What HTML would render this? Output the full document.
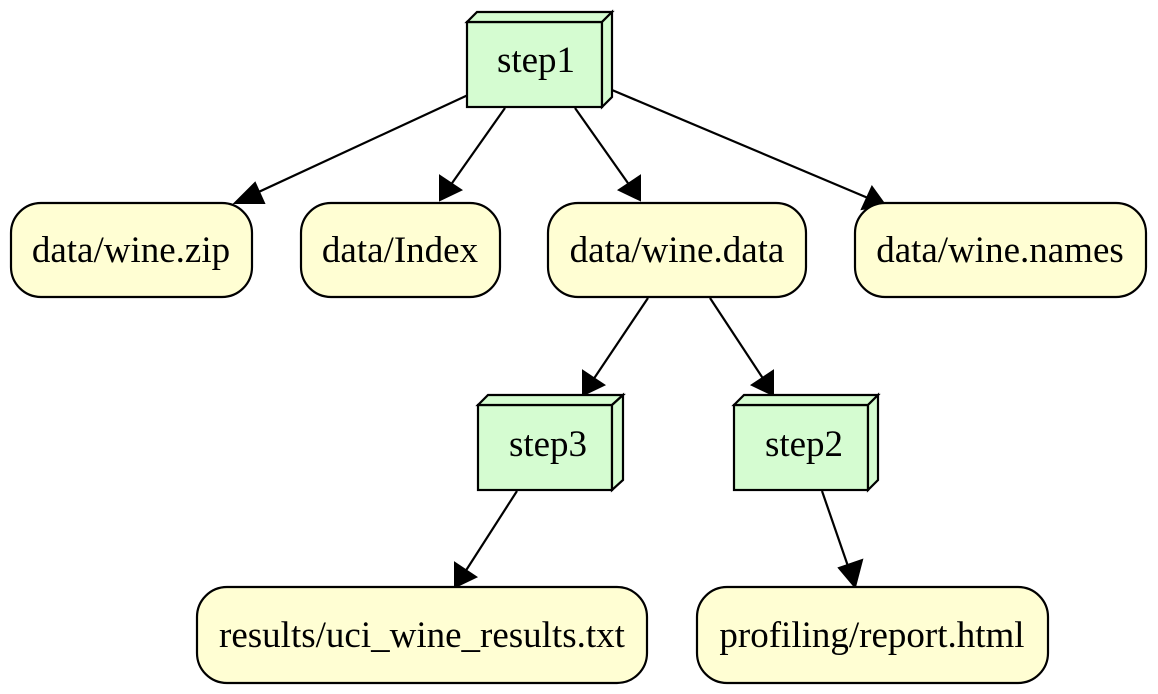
<!DOCTYPE html>
<html><head><meta charset="utf-8"><style>
html,body{margin:0;padding:0;background:#fff;}
svg{display:block;}
text{font-family:"Liberation Serif",serif;font-size:37px;fill:#000;}
</style></head><body>
<svg width="1158" height="694" viewBox="0 0 1158 694" xmlns="http://www.w3.org/2000/svg">
<g stroke="#000" stroke-width="2.2" fill="none">
<line x1="468" y1="95" x2="250" y2="196"/>
<line x1="505" y1="108" x2="450" y2="186"/>
<line x1="575" y1="108" x2="630" y2="186"/>
<line x1="612" y1="90" x2="868" y2="198"/>
<line x1="648" y1="298" x2="593" y2="380"/>
<line x1="710" y1="298" x2="764" y2="380"/>
<line x1="517" y1="491" x2="465" y2="572"/>
<line x1="822" y1="491" x2="850" y2="572"/>
</g>
<g fill="#000" stroke="#000" stroke-width="2">
<polygon points="235,203 255,183 264,203"/>
<polygon points="440,200 440,176 461,190"/>
<polygon points="640,200 619,190 640,176"/>
<polygon points="885,205 862,209 872,187"/>
<polygon points="583,395 583,371 604,385"/>
<polygon points="773,395 752,385 773,371"/>
<polygon points="455,587 455,563 476,577"/>
<polygon points="855,587 839,568 862,560"/>
</g>
<g stroke="#000" stroke-width="2.2" fill="#fffed3">
<rect x="11" y="203" width="241" height="94" rx="30"/>
<rect x="301" y="203" width="199" height="94" rx="30"/>
<rect x="548" y="203" width="258" height="94" rx="30"/>
<rect x="855" y="203" width="291" height="94" rx="30"/>
<rect x="197" y="587" width="450" height="96" rx="30"/>
<rect x="697" y="587" width="351" height="96" rx="30"/>
</g>
<g stroke="#000" stroke-width="2.2" fill="#d5fcd1">
<rect x="467" y="22" width="135" height="85"/>
<polygon points="467,22 477,12 612,12 602,22"/>
<polygon points="602,22 612,12 612,97 602,107"/>
<rect x="478" y="405" width="134" height="85"/>
<polygon points="478,405 488,395 623,395 612,405"/>
<polygon points="612,405 623,395 623,480 612,490"/>
<rect x="734" y="405" width="134" height="85"/>
<polygon points="734,405 744,395 878,395 868,405"/>
<polygon points="868,405 878,395 878,480 868,490"/>
</g>
<g text-anchor="middle">
<text x="536" y="72">step1</text>
<text x="131" y="262">data/wine.zip</text>
<text x="400" y="262">data/Index</text>
<text x="677" y="262">data/wine.data</text>
<text x="1000" y="262">data/wine.names</text>
<text x="548" y="456">step3</text>
<text x="804" y="456">step2</text>
<text x="422" y="647">results/uci_wine_results.txt</text>
<text x="872" y="647">profiling/report.html</text>
</g>
</svg>
</body></html>
